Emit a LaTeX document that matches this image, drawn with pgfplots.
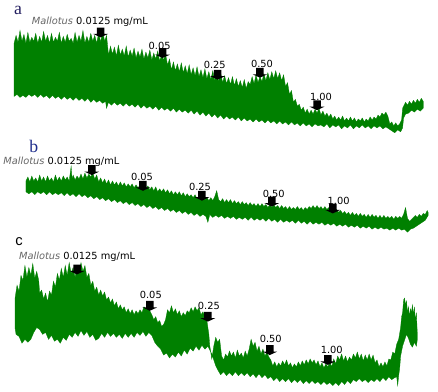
\documentclass[border=0pt]{standalone}
\usepackage{fontspec}
\setmainfont{DejaVu Sans}
\newfontfamily\letserif{Liberation Serif}
\newfontfamily\letsans{Liberation Sans}
\usepackage{pgfplots}
\pgfplotsset{compat=1.18}
\definecolor{trace}{RGB}{0,128,0}
\definecolor{laba}{RGB}{35,30,95}
\definecolor{labb}{RGB}{30,45,140}
\pgfdeclareplotmark{darrow}{%
 \pgfpathmoveto{\pgfpoint{0pt}{0pt}}%
 \pgfpathlineto{\pgfpoint{7.5pt}{3.5pt}}%
 \pgfpathlineto{\pgfpoint{3.8pt}{3.5pt}}%
 \pgfpathlineto{\pgfpoint{3.8pt}{10pt}}%
 \pgfpathlineto{\pgfpoint{-3.8pt}{10pt}}%
 \pgfpathlineto{\pgfpoint{-3.8pt}{3.5pt}}%
 \pgfpathlineto{\pgfpoint{-7.5pt}{3.5pt}}%
 \pgfpathclose
 \pgfusepathqfill}
\newcommand{\mlab}{{\color{black!60}\itshape Mallotus} 0.0125 mg/mL}
\begin{document}
\begin{tikzpicture}
\begin{axis}[scale only axis, width=438pt, height=398pt,
  xmin=0, xmax=438, ymin=0, ymax=398, y dir=reverse,
  hide axis, clip=false,
  every node/.style={font=\fontsize{7.8}{9}\selectfont}]
\addplot[draw=none, forget plot] coordinates {(0,0) (438,398)};
% ---- trace a
\addplot[fill=trace, draw=trace, line width=0.3pt] coordinates {
(7,44)(9,36)(11,43)(13,31)(15,42)(17,35)(19,44)(21,33)(23,43)(25,38)(27,42)(29,34)(31,44)(33,37)(35,43)(37,32)(39,42)(41,36)(43,44)(45,34)(47,43)(49,38)(51,42)(53,33)(55,44)(57,37)(59,43)(61,35)(63,42)(65,39)(67,44)(69,33)(71,43)(73,36)(75,42)(77,31)(79,44)(81,37)(83,43)(85,34)(87,42)(89,36)(91,44)(93,33)(95,43)(97,31)(99,42)(101,36)
(103,56)(105,47)(107,55)(109,48)(111,57)(113,46)(115,56)(117,50)(119,57)(121,47)(123,58)(125,51)(127,57)(129,49)(131,59)(133,52)(135,58)(137,50)(139,60)(141,53)(143,59)(145,51)(147,61)(149,54)(151,60)(153,52)(155,62)(157,56)(159,61)(161,55)(163,66)(165,60)
(167,71)(169,63)(171,72)(173,65)(175,73)(177,64)(179,74)(181,67)(183,75)(185,66)(187,76)(189,69)(191,77)(193,68)(195,78)(197,71)(199,79)(201,70)(203,80)(205,73)(207,81)(209,72)(211,82)(213,75)(215,83)(217,74)(219,84)(221,77)(223,85)(225,79)(227,86)(229,78)(231,87)(233,80)(235,88)(237,82)(239,89)(241,81)(243,90)(245,83)
(247,86)(249,78)(251,85)(253,76)(255,84)(257,78)(259,83)(261,75)(263,82)(265,74)(267,81)(269,73)(271,80)(273,72)(275,80)(277,74)(279,82)(281,76)
(283,88)(285,84)(287,96)(289,92)(291,104)(293,101)(295,108)(297,106)(299,112)(301,109)
(303,115)(305,111)(307,116)(309,112)(311,116)(313,111)(315,115)(317,110)(319,117)(321,113)(323,118)(325,115)(327,119)(329,116)
(331,121)(333,118)(335,122)(337,119)(339,122)(341,118)(343,123)(345,120)(347,123)(349,119)(351,123)(353,120)(355,124)(357,121)(359,123)(361,120)(363,124)(365,121)(367,123)(369,119)(371,122)(373,119)(375,121)(377,117)(379,119)(381,115)(383,117)(385,114)(387,118)
(389,126)(391,124)(393,128)(395,125)(397,128)(399,126)(401,122)(402,110)
(403,108)(405,104)(407,107)(409,103)(411,106)(413,102)(415,105)(417,101)(419,104)(421,100)(423,103)
(423,110)(420,113)(417,111)(414,114)(411,112)(408,115)(405,116)(403,120)(402,130)(400,134)(397,132)(394,135)(391,133)(388,131)(385,129)(382,131)(379,128)(376,130)(373,128)(370,131)(367,128)(364,130)(361,127)(358,130)(355,128)(352,131)(349,127)(346,130)(343,128)(340,131)(337,127)(334,129)(331,127)(328,130)(325,126)(322,129)(319,127)(316,128)(313,126)(310,129)(307,126)(304,128)(301,125)(298,128)(295,125)(292,127)(289,124)(286,127)(283,124)(280,126)(277,123)(274,126)(271,123)(268,125)(265,122)(262,125)(259,122)(256,124)(253,121)(250,124)(247,121)(244,123)(241,120)(238,123)(235,119)(232,122)(229,119)(226,121)(223,118)(220,121)(217,117)(214,120)(211,116)(208,119)(205,115)(202,118)(199,114)(196,117)(193,113)(190,116)(187,112)(184,115)(181,112)(178,114)(175,111)(172,114)(169,110)(166,113)(163,110)(160,112)(157,109)(154,112)(151,108)(148,111)(145,108)(142,110)(139,107)(136,110)(133,106)(130,109)(127,106)(124,108)(121,105)(118,108)(115,105)(112,107)(109,104)(106,107)(103,104)(101,110)(100,103)(97,105)(94,102)(91,104)(88,101)(85,104)(82,100)(79,103)(76,100)(73,102)(70,99)(67,102)(64,99)(61,101)(58,98)(55,101)(52,98)(49,100)(46,97)(43,100)(40,97)(37,99)(34,96)(31,99)(28,96)(25,98)(22,96)(19,99)(16,97)(13,99)(10,96)(7,98)
} -- cycle;
% ---- trace b
\addplot[fill=trace, draw=trace, line width=0.3pt] coordinates {
(19,184)(21,180)(23,185)(25,179)(27,184)(29,181)(31,185)(33,178)(35,184)(37,180)(39,185)(41,179)(43,184)(45,181)(47,185)(49,178)(51,184)(53,180)(55,184)(57,179)(59,183)(61,180)(63,184)(65,169)(66,183)(67,178)(69,183)(71,179)(73,182)(75,177)(77,182)(79,176)(81,181)(83,177)(85,180)(87,176)(89,182)(91,178)(93,185)(95,181)(97,186)(99,182)(101,187)(103,183)(105,188)(107,184)(109,188)(111,185)(113,189)(115,185)(117,189)(119,186)(121,190)(123,187)(125,190)(127,187)(129,191)(131,188)(133,191)(135,188)(137,192)(139,188)(141,192)(143,189)(145,193)(147,190)(149,194)(151,190)(153,195)(155,192)(157,195)(159,192)(161,196)(163,193)(165,197)(167,194)(169,198)(171,195)(173,198)(175,195)(177,199)(179,196)(181,200)(183,197)(185,200)(187,198)(189,201)(191,198)(193,202)(195,199)(197,202)(199,200)(201,203)(203,201)(205,204)(207,201)(209,204)(211,200)(213,194)(215,203)(217,205)(219,202)(221,206)(223,203)(225,206)(227,203)(229,207)(231,204)(233,207)(235,205)(237,208)(239,205)(241,208)(243,206)(245,209)(247,206)(249,209)(251,207)(253,210)(255,207)(257,210)(259,207)(261,210)(263,208)(265,211)(267,208)(269,211)(271,208)(273,211)(275,209)(277,212)(279,209)(281,212)(283,210)(285,213)(287,210)(289,213)(291,211)(293,213)(295,210)(297,213)(299,211)(301,214)(303,211)(305,213)(307,210)(309,212)(311,209)(313,212)(315,209)(317,212)(319,210)(321,213)(323,210)(325,213)(327,211)(329,214)(331,212)(333,215)(335,213)(337,216)(339,214)(341,217)(343,215)(345,218)(347,216)(349,219)(351,216)(353,219)(355,217)(357,220)(359,217)(361,220)(363,218)(365,221)(367,218)(369,221)(371,218)(373,221)(375,219)(377,222)(379,219)(381,222)(383,219)(385,222)(387,220)(389,222)(391,220)(393,223)(395,220)(397,222)(399,220)(401,222)(403,218)(405,211)(407,222)(409,225)(411,223)(413,221)(415,219)(417,221)(419,218)(421,220)(423,217)(425,218)(427,214)(428,216)
(428,219)(425,224)(422,226)(419,228)(416,230)(413,232)(410,233)(407,236)(404,233)(401,234)(398,232)(395,234)(392,232)(389,234)(386,232)(383,233)(380,231)(377,233)(374,231)(371,233)(368,230)(365,232)(362,230)(359,232)(356,229)(353,231)(350,229)(347,231)(344,228)(341,230)(338,228)(335,230)(332,227)(329,229)(326,227)(323,229)(320,226)(317,228)(314,226)(311,228)(308,225)(305,228)(302,225)(299,227)(296,224)(293,227)(290,224)(287,226)(284,224)(281,226)(278,223)(275,226)(272,223)(269,225)(266,222)(263,225)(260,222)(257,224)(254,222)(251,224)(248,221)(245,224)(242,221)(239,223)(236,221)(233,223)(230,220)(227,222)(224,220)(221,222)(218,219)(215,221)(212,219)(209,221)(206,218)(204,226)(202,220)(199,218)(196,220)(193,217)(190,219)(187,216)(184,218)(181,215)(178,217)(175,214)(172,216)(169,213)(166,215)(163,212)(160,214)(157,211)(154,213)(151,210)(148,212)(145,209)(142,211)(139,208)(136,210)(133,207)(130,209)(127,206)(124,208)(121,205)(118,207)(115,204)(112,206)(109,203)(106,205)(103,202)(100,204)(97,201)(94,203)(91,200)(88,202)(85,199)(82,201)(79,198)(76,200)(73,197)(70,200)(67,197)(64,199)(61,196)(58,199)(55,196)(52,198)(49,196)(46,198)(43,195)(40,198)(37,195)(34,197)(31,195)(28,198)(25,195)(22,197)(19,195)
} -- cycle;
% ---- trace c
\addplot[fill=trace, draw=trace, line width=0.3pt] coordinates {
(8,303)(10,290)(12,296)(14,280)(16,285)(18,270)(20,282)(22,272)(24,280)(26,268)(28,283)(30,276)(32,285)(33,298)(35,295)(37,304)(39,298)(41,307)(43,296)(45,300)(47,286)(49,292)(51,278)(53,285)(55,273)(57,282)(59,270)(61,280)(63,267)(65,278)(67,272)(69,282)(71,270)(73,279)(75,267)(77,276)(79,270)(81,282)(83,278)(85,290)(87,286)(89,296)(91,292)(93,300)(95,295)(97,301)(99,297)(101,305)(103,302)(105,308)(107,304)(109,311)(111,307)(113,314)(115,310)(117,315)(119,312)(121,318)(123,314)(125,319)(127,315)(129,320)(131,316)(133,319)(135,315)(137,318)(139,312)(141,314)(143,309)(145,316)(147,320)(149,325)(151,322)(153,328)(155,326)(157,332)(159,330)(161,325)(163,315)(165,318)(167,311)(169,318)(171,314)(173,320)(175,316)(177,322)(179,318)(181,321)(183,316)(185,318)(187,313)(189,317)(191,312)(193,316)(195,313)(197,320)(199,317)(201,322)(203,326)(205,340)(206,352)(208,365)(210,352)(212,343)(214,348)(216,345)(218,362)(220,366)(222,360)(224,363)(226,357)(228,362)(230,358)(232,364)(234,356)(236,362)(238,359)(240,364)(242,357)(244,362)(246,355)(248,345)(250,352)(252,348)(254,357)(256,352)(258,360)(260,355)(262,362)(264,358)(266,363)(268,366)(270,372)(272,368)(274,373)(276,369)(278,372)(280,367)(282,371)(284,366)(286,372)(288,369)(290,374)(292,370)(294,373)(296,368)(298,372)(300,367)(302,371)(304,366)(306,370)(308,365)(310,369)(312,366)(314,371)(316,367)(318,373)(320,369)(322,374)(324,370)(326,373)(328,368)(330,373)(332,365)(334,370)(336,362)(338,366)(340,360)(342,367)(344,362)(346,368)(348,363)(350,366)(352,360)(354,364)(356,358)(358,365)(360,360)(362,367)(364,361)(366,366)(368,360)(370,366)(372,361)(374,369)(376,366)(378,373)(380,369)(382,373)(384,368)(386,372)(388,365)(390,366)(392,358)(394,360)(396,350)(398,345)(400,333)(401,322)(402,318)(403,305)(404,303)(405,310)(406,306)(407,318)(408,312)(409,322)(410,314)(411,318)(412,310)(413,320)(414,312)(415,326)(416,318)(417,340)
(417,345)(416,352)(414,348)(412,353)(410,350)(408,344)(406,340)(404,346)(402,352)(400,362)(399,375)(398,382)(397,392)(396,383)(394,384)(391,386)(388,383)(385,387)(382,384)(379,388)(376,385)(373,388)(370,386)(367,389)(364,386)(361,388)(358,385)(355,388)(352,386)(349,390)(346,387)(343,391)(340,388)(337,392)(334,389)(331,392)(328,389)(325,391)(322,388)(319,391)(316,388)(313,390)(310,387)(307,390)(304,387)(301,390)(298,386)(295,389)(292,386)(289,389)(286,385)(283,388)(280,385)(277,388)(274,384)(271,387)(268,383)(265,385)(262,381)(259,384)(256,380)(253,384)(250,380)(247,383)(244,379)(241,382)(238,379)(235,382)(232,378)(229,382)(226,379)(223,382)(220,378)(217,381)(214,376)(212,372)(210,366)(208,360)(206,356)(204,352)(201,355)(198,351)(195,356)(192,352)(189,357)(186,354)(183,360)(180,356)(177,362)(174,358)(171,363)(168,360)(165,364)(162,359)(159,361)(156,355)(153,352)(150,348)(147,341)(144,338)(141,342)(138,337)(135,341)(132,338)(129,343)(126,339)(123,343)(120,339)(117,344)(114,340)(111,343)(108,339)(105,342)(102,338)(99,343)(96,339)(93,344)(90,346)(87,340)(84,343)(81,337)(78,341)(75,336)(72,342)(69,338)(66,343)(63,340)(60,346)(57,343)(54,349)(51,345)(48,347)(45,341)(42,345)(39,338)(36,340)(33,335)(30,333)(27,338)(24,345)(21,348)(18,345)(15,349)(12,342)(9,340)(8,334)
} -- cycle;
% ---- arrows (tip positions)
\addplot[only marks, mark=darrow, black] coordinates {
(95,38)(158,59)(214,81)(257,79)(315,112)
(86,178)(138,194)(198,204)(269,210)(331,217)
(71,279)(145,316)(204,327)(267,361)(326,371)};
% ---- labels
\node at (axis cs:84,22) {\mlab};
\node at (axis cs:155,47) {0.05};
\node at (axis cs:211,66) {0.25};
\node at (axis cs:259,65) {0.50};
\node at (axis cs:319,99) {1.00};
\node at (axis cs:55,164) {\mlab};
\node at (axis cs:137,180) {0.05};
\node at (axis cs:196,190) {0.25};
\node at (axis cs:271,197) {0.50};
\node at (axis cs:337,204) {1.00};
\node at (axis cs:71,261) {\mlab};
\node at (axis cs:146,300) {0.05};
\node at (axis cs:205,311) {0.25};
\node at (axis cs:268,345) {0.50};
\node at (axis cs:330,356) {1.00};
\node[font=\letserif\fontsize{18}{18}\selectfont, text=laba] at (axis cs:11,11) {a};
\node[font=\letserif\fontsize{18}{18}\selectfont, text=labb] at (axis cs:27,149) {b};
\node[font=\letsans\fontsize{15}{15}\selectfont, text=black] at (axis cs:12,246) {c};
\end{axis}
\end{tikzpicture}
\end{document}
